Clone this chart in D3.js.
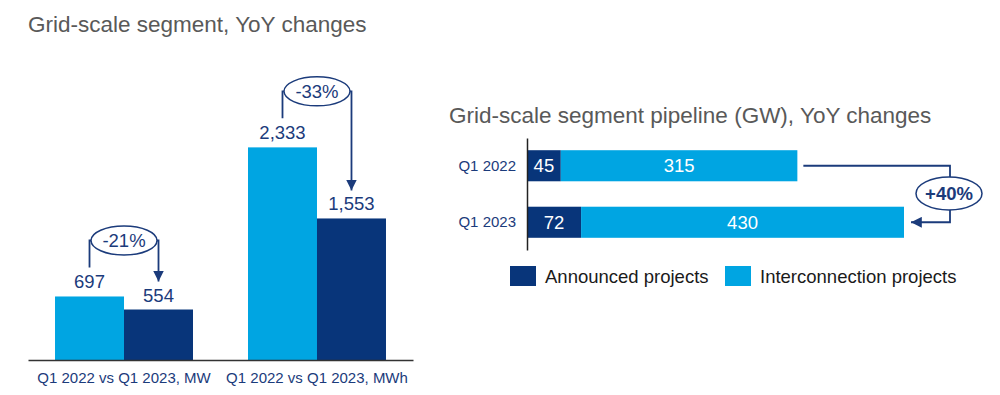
<!DOCTYPE html>
<html>
<head>
<meta charset="utf-8">
<script src="https://cdn.jsdelivr.net/npm/d3@7"></script>
<style>
  body { margin: 0; background: #fff; }
  svg { display: block; font-family: "Liberation Sans", Arial, sans-serif; }
</style>
</head>
<body>
<svg id="chart" width="1000" height="395"></svg>
<script>
// left chart data
const groupLabels = ["Q1 2022 vs Q1 2023, MW", "Q1 2022 vs Q1 2023, MWh"];
const seriesKeys = ["Q1 2022", "Q1 2023"];
const valuesQ1_2022 = [697, 2333];
const valuesQ1_2023 = [554, 1553];
const changeLabels = ["-21%", "-33%"];

// right chart data
const pipelineQuarters = ["Q1 2022", "Q1 2023"];
const announced = [45, 72];
const interconnection = [315, 430];
const pipelineChange = "+40%";
const legendLabels = ["Announced projects", "Interconnection projects"];

const lightBlue = "#00a5e2";
const darkBlue = "#08357a";
const navyText = "#1b3b7b";
const titleGrey = "#595959";

const svg = d3.select("#chart");
const fmt = d3.format(",");

// arrowhead marker
svg.append("defs").append("marker")
  .attr("id", "arrow")
  .attr("viewBox", "0 0 10 10")
  .attr("refX", 10).attr("refY", 5)
  .attr("markerWidth", 6).attr("markerHeight", 6)
  .attr("markerUnits", "strokeWidth")
  .attr("orient", "auto")
  .append("path").attr("d", "M0,0 L10,5 L0,10 Z").attr("fill", navyText);

// ---------- Left chart ----------
svg.append("text")
  .attr("x", 28).attr("y", 32)
  .attr("font-size", 22.5).attr("fill", titleGrey)
  .text("Grid-scale segment, YoY changes");

const x0 = d3.scaleBand().domain(groupLabels).range([28, 413])
  .paddingInner(0.285).paddingOuter(0.14);
const x1 = d3.scaleBand().domain(seriesKeys).range([0, x0.bandwidth()]);
const y = d3.scaleLinear().domain([0, 3950]).range([360, 0]);

const groups = groupLabels.map((g, i) => ({
  label: g,
  change: changeLabels[i],
  bars: [
    { key: seriesKeys[0], value: valuesQ1_2022[i], color: lightBlue },
    { key: seriesKeys[1], value: valuesQ1_2023[i], color: darkBlue }
  ]
}));

const gLeft = svg.append("g");
const grp = gLeft.selectAll("g.grp").data(groups).join("g")
  .attr("class", "grp")
  .attr("transform", d => `translate(${x0(d.label)},0)`);

grp.selectAll("rect").data(d => d.bars).join("rect")
  .attr("x", d => x1(d.key))
  .attr("width", x1.bandwidth())
  .attr("y", d => y(d.value))
  .attr("height", d => y(0) - y(d.value))
  .attr("fill", d => d.color);

grp.selectAll("text.val").data(d => d.bars).join("text")
  .attr("class", "val")
  .attr("x", d => x1(d.key) + x1.bandwidth() / 2)
  .attr("y", d => y(d.value) - 8)
  .attr("text-anchor", "middle")
  .attr("font-size", 18.5).attr("fill", navyText)
  .text(d => fmt(d.value));

// change annotations (bracket + ellipse)
grp.each(function(d) {
  const g = d3.select(this);
  const a = d.bars[0], b = d.bars[1];
  const xa = x1(a.key) + x1.bandwidth() / 2;
  const xb = x1(b.key) + x1.bandwidth() / 2;
  const topLabel = y(a.value) - 8;
  const cy = topLabel - 48;
  const cx = x0.bandwidth() / 2;
  g.append("path")
    .attr("d", `M${xa},${topLabel - 21} V${cy} H${xb} V${y(b.value) - 8 - 20}`)
    .attr("fill", "none").attr("stroke", navyText).attr("stroke-width", 1.8)
    .attr("marker-end", "url(#arrow)");
  g.append("ellipse")
    .attr("cx", cx).attr("cy", cy).attr("rx", 33).attr("ry", 14.5)
    .attr("fill", "#fff").attr("stroke", navyText).attr("stroke-width", 1.5);
  g.append("text")
    .attr("x", cx).attr("y", cy).attr("dy", "0.35em")
    .attr("text-anchor", "middle")
    .attr("font-size", 18.5).attr("fill", navyText)
    .text(d.change);
});

// baseline axis
const xAxis = gLeft.append("g")
  .attr("transform", `translate(0,${y(0)})`)
  .call(d3.axisBottom(x0).tickSize(0).tickPadding(12));
xAxis.select(".domain").attr("stroke", "#333").attr("stroke-width", 1.5);
xAxis.selectAll("text")
  .attr("font-size", 15).attr("fill", navyText)
  .attr("font-family", "Liberation Sans, Arial, sans-serif");

// ---------- Right chart ----------
svg.append("text")
  .attr("x", 449).attr("y", 123)
  .attr("font-size", 22.5).attr("fill", titleGrey)
  .text("Grid-scale segment pipeline (GW), YoY changes");

const xr = d3.scaleLinear().domain([0, 502]).range([527, 904]);
const yr = d3.scaleBand().domain(pipelineQuarters).range([138, 250])
  .paddingInner(0.45).paddingOuter(0.216);

const stackData = pipelineQuarters.map((q, i) => ({
  quarter: q, announced: announced[i], interconnection: interconnection[i]
}));
const stack = d3.stack().keys(["announced", "interconnection"])(stackData);
const stackColors = { announced: darkBlue, interconnection: lightBlue };

const gRight = svg.append("g");
const layers = gRight.selectAll("g.layer").data(stack).join("g")
  .attr("class", "layer")
  .attr("fill", d => stackColors[d.key]);

layers.selectAll("rect").data(d => d).join("rect")
  .attr("x", d => xr(d[0]))
  .attr("width", d => xr(d[1]) - xr(d[0]))
  .attr("y", d => yr(d.data.quarter))
  .attr("height", yr.bandwidth());

layers.selectAll("text").data(d => d).join("text")
  .attr("x", d => (xr(d[0]) + xr(d[1])) / 2)
  .attr("y", d => yr(d.data.quarter) + yr.bandwidth() / 2)
  .attr("dy", "0.35em")
  .attr("text-anchor", "middle")
  .attr("font-size", 18.5).attr("fill", "#fff")
  .text(d => d[1] - d[0]);

const yAxis = gRight.append("g")
  .attr("transform", `translate(${xr(0)},0)`)
  .call(d3.axisLeft(yr).tickSize(0).tickPadding(11));
yAxis.select(".domain").attr("stroke", "#222").attr("stroke-width", 1.5);
yAxis.selectAll("text")
  .attr("font-size", 15).attr("fill", navyText)
  .attr("font-family", "Liberation Sans, Arial, sans-serif");

// +40% connector
const tot = stackData.map(d => d.announced + d.interconnection);
const yA = yr(pipelineQuarters[0]) + yr.bandwidth() / 2;
const yB = yr(pipelineQuarters[1]) + yr.bandwidth() / 2;
const cxR = 950;
gRight.append("path")
  .attr("d", `M${xr(tot[0]) + 6},${yA} H${cxR} V${yB} H${xr(tot[1]) + 7}`)
  .attr("fill", "none").attr("stroke", navyText).attr("stroke-width", 1.8)
  .attr("marker-end", "url(#arrow)");
gRight.append("ellipse")
  .attr("cx", cxR - 1).attr("cy", (yA + yB) / 2 - 0.5).attr("rx", 33).attr("ry", 16.5)
  .attr("fill", "#fff").attr("stroke", navyText).attr("stroke-width", 1.5);
gRight.append("text")
  .attr("x", cxR - 1).attr("y", (yA + yB) / 2 - 0.5).attr("dy", "0.35em")
  .attr("text-anchor", "middle")
  .attr("font-size", 18.5).attr("font-weight", "bold").attr("fill", navyText)
  .text(pipelineChange);

// legend
const legendX = [510, 725];
const legend = gRight.selectAll("g.legend").data(legendLabels).join("g")
  .attr("class", "legend")
  .attr("transform", (d, i) => `translate(${legendX[i]},266)`);
legend.append("rect")
  .attr("width", 26).attr("height", 20)
  .attr("fill", (d, i) => i === 0 ? darkBlue : lightBlue);
legend.append("text")
  .attr("x", 35).attr("y", 17)
  .attr("font-size", 18.5).attr("fill", "#1a1a1a")
  .text(d => d);
</script>
</body>
</html>
